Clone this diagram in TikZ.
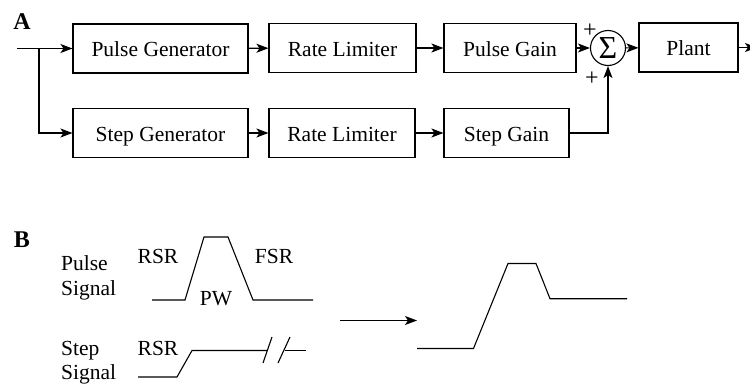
\documentclass[tikz,border=0pt]{standalone}
\usepackage{fontspec}
\setmainfont{Liberation Serif}
\usetikzlibrary{arrows.meta}
\begin{document}
\begin{tikzpicture}[x=1pt,y=-1pt,
  blk/.style={draw, line width=1.1pt, rectangle, inner sep=0pt, minimum height=49pt, text height=16pt, text depth=0pt, font=\fontsize{21.5}{24}\selectfont},
  conn/.style={line width=1.1pt, -{Stealth[length=12pt,width=9pt,inset=3pt]}},
  wave/.style={line width=1.1pt},
  lbl/.style={font=\fontsize{21.5}{24}\selectfont, inner sep=0pt, text height=14pt, text depth=0pt},
  plus/.style={font=\fontsize{24}{26}\selectfont, inner sep=0pt},
  panel/.style={font=\fontsize{24}{26}\selectfont\bfseries, inner sep=0pt}]
\useasboundingbox (0,0) rectangle (750,388);

% Panel A
\node[panel] (A) at (22,22) {A};
\node[blk, minimum width=175pt] (pgen) at (160.5,48.5) {Pulse Generator};
\node[blk, minimum width=147pt] (rl1) at (342.5,48) {Rate Limiter};
\node[blk, minimum width=132pt] (pgain) at (510,48) {Pulse Gain};
\node[draw, circle, line width=1.1pt, minimum size=35pt, inner sep=0pt, font=\fontsize{32}{34}\selectfont] (sum) at (608,48) {Σ};
\node[blk, minimum width=99pt] (plant) at (688.5,47.5) {Plant};
\node[blk, minimum width=175pt] (sgen) at (160.5,133) {Step Generator};
\node[blk, minimum width=146pt] (rl2) at (342,133) {Rate Limiter};
\node[blk, minimum width=125pt] (sgain) at (506.5,133) {Step Gain};
\node[plus] (p1) at (590,31) {+};
\node[plus] (p2) at (592,79) {+};

\coordinate (in) at (17,48.5);
\coordinate (br) at (39,48.5);
\coordinate (out) at (757,47.5);

\draw[conn] (in) -- (pgen.west);
\draw[conn] (br) |- (sgen.west);
\draw[conn] (pgen) -- (rl1);
\draw[conn] (rl1) -- (pgain);
\draw[conn] (pgain) -- (sum);
\draw[conn] (sum) -- (plant);
\draw[conn] (plant) -- (out);
\draw[conn] (sgen) -- (rl2);
\draw[conn] (rl2) -- (sgain);
\draw[conn] (sgain.east) -| (sum.south);

% Panel B
\node[panel] (B) at (22,240) {B};
\node[lbl, anchor=west] (ps1) at (61,263) {Pulse};
\node[lbl, anchor=west] (ps2) at (61,288) {Signal};
\node[lbl, anchor=west] (ss1) at (61,348) {Step};
\node[lbl, anchor=west] (ss2) at (61,372) {Signal};
\node[lbl] (rsr1) at (158,256) {RSR};
\node[lbl] (fsr) at (274,256) {FSR};
\node[lbl] (pw) at (216,298) {PW};
\node[lbl] (rsr2) at (158,348) {RSR};

\draw[wave] (152,300) -- (185,300) -- (204,237) -- (228,237) -- (253,300) -- (313,300);
\draw[wave] (138,377) -- (177,377) -- (192,350.5) -- (267.5,350.5);
\draw[wave] (284.5,350.5) -- (306,350.5);
\draw[wave] (263,363) -- (272,337);
\draw[wave] (278,363) -- (290,337);

\coordinate (a1) at (340,320.5);
\coordinate (a2) at (417,320.5);
\draw[conn] (a1) -- (a2);

\draw[wave] (417,348.5) -- (473.5,348.5) -- (508,263.5) -- (536,263.5) -- (550,298.7) -- (627,298.7);
\end{tikzpicture}
\end{document}
